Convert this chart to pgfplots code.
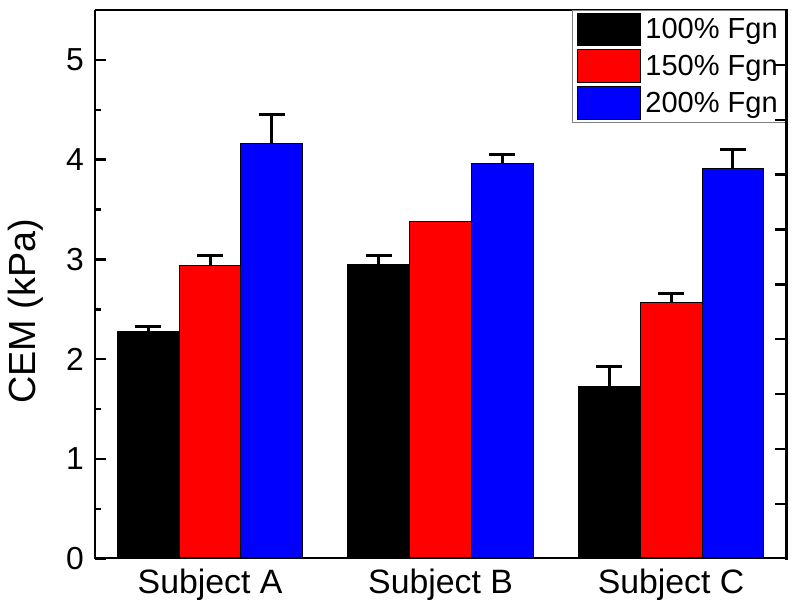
\documentclass[border=0pt]{standalone}
\usepackage{pgfplots}
\pgfplotsset{compat=1.18}
\usepackage{fontspec}
\setmainfont{Liberation Sans}
\begin{document}
\begin{tikzpicture}
\pgfplotsset{
  mylegend/.style={legend image code/.code={\draw[##1, line width=0.5bp] (0bp,-8.25bp) rectangle (32bp,8.25bp);}},
}
\begin{axis}[
  scale only axis, width=346.5bp, height=275bp,
  ybar, bar width=31bp,
  xmin=-0.5, xmax=2.5, ymin=0, ymax=5.5,
  xtick={0,1,2}, xticklabels={Subject A,Subject B,Subject C},
  x tick style={draw=none},
  ytick={0,1,2,3,4,5}, minor y tick num=1,
  ytick pos=left, xtick pos=bottom,
  tick align=inside,
  major tick length=5.5bp, minor tick length=3bp,
  every tick/.style={black, line width=1.2bp},
  /pgf/number format/assume math mode=true,
  yticklabel style={font=\fontsize{16}{18}\selectfont, xshift=-2bp},
  xticklabel style={font=\fontsize{17}{20}\selectfont, yshift=-1.5bp},
  ylabel={CEM (kPa)},
  ylabel style={font=\fontsize{19}{22}\selectfont, at={(axis description cs:-0.0996,0.451)}, anchor=center},
  legend style={at={(rel axis cs:1,1)}, anchor=north east, draw=gray, line width=0.6bp,
    font=\fontsize{14.6}{16}\selectfont, inner xsep=2bp, inner ysep=1bp, row sep=1.5bp,
    cells={anchor=west}},
  error bars/y dir=plus, error bars/y explicit,
  error bars/error bar style={line width=1.5bp, black},
  error bars/error mark options={line width=1.5bp, mark size=6.5bp, black, rotate=90},
]
\addplot[fill=black, draw=black, line width=0.5bp, bar shift=-31bp, mylegend] coordinates {(0,2.28) +- (0,0.05) (1,2.95) +- (0,0.09) (2,1.73) +- (0,0.20)};
\addlegendentry{100\% Fgn}
\addplot[fill=red, draw=black, line width=0.5bp, bar shift=0bp, mylegend, error bars/y dir=none] coordinates {(0,2.94) (1,3.38) (2,2.57)};
\addlegendentry{150\% Fgn}
\addplot[fill=blue, draw=black, line width=0.5bp, bar shift=31bp, mylegend] coordinates {(0,4.16) +- (0,0.29) (1,3.96) +- (0,0.09) (2,3.91) +- (0,0.19)};
\addlegendentry{200\% Fgn}
\addplot[draw=none, fill=none, bar shift=0bp, forget plot] coordinates {(0,2.94) +- (0,0.10) (2,2.57) +- (0,0.09)};
\draw[black, line width=1.4bp, line cap=rect] (rel axis cs:0,0) rectangle (rel axis cs:1,1);
\end{axis}
\begin{axis}[
  scale only axis, width=346.5bp, height=275bp,
  xmin=-0.5, xmax=2.5, ymin=0, ymax=5.5,
  axis x line=none, axis y line*=right,
  ytick={0.55,1.1,1.65,2.2,2.75,3.3,3.85,4.4,4.95}, yticklabels={},
  tick align=inside, major tick length=5.5bp,
  every tick/.style={black, line width=1.2bp},
  axis line style={line width=1.4bp, line cap=rect},
]
\end{axis}
\path (current axis.south west) ++(-47.5bp,-27.5bp) rectangle ([xshift=6bp,yshift=5bp]current axis.north east);
\end{tikzpicture}
\end{document}
